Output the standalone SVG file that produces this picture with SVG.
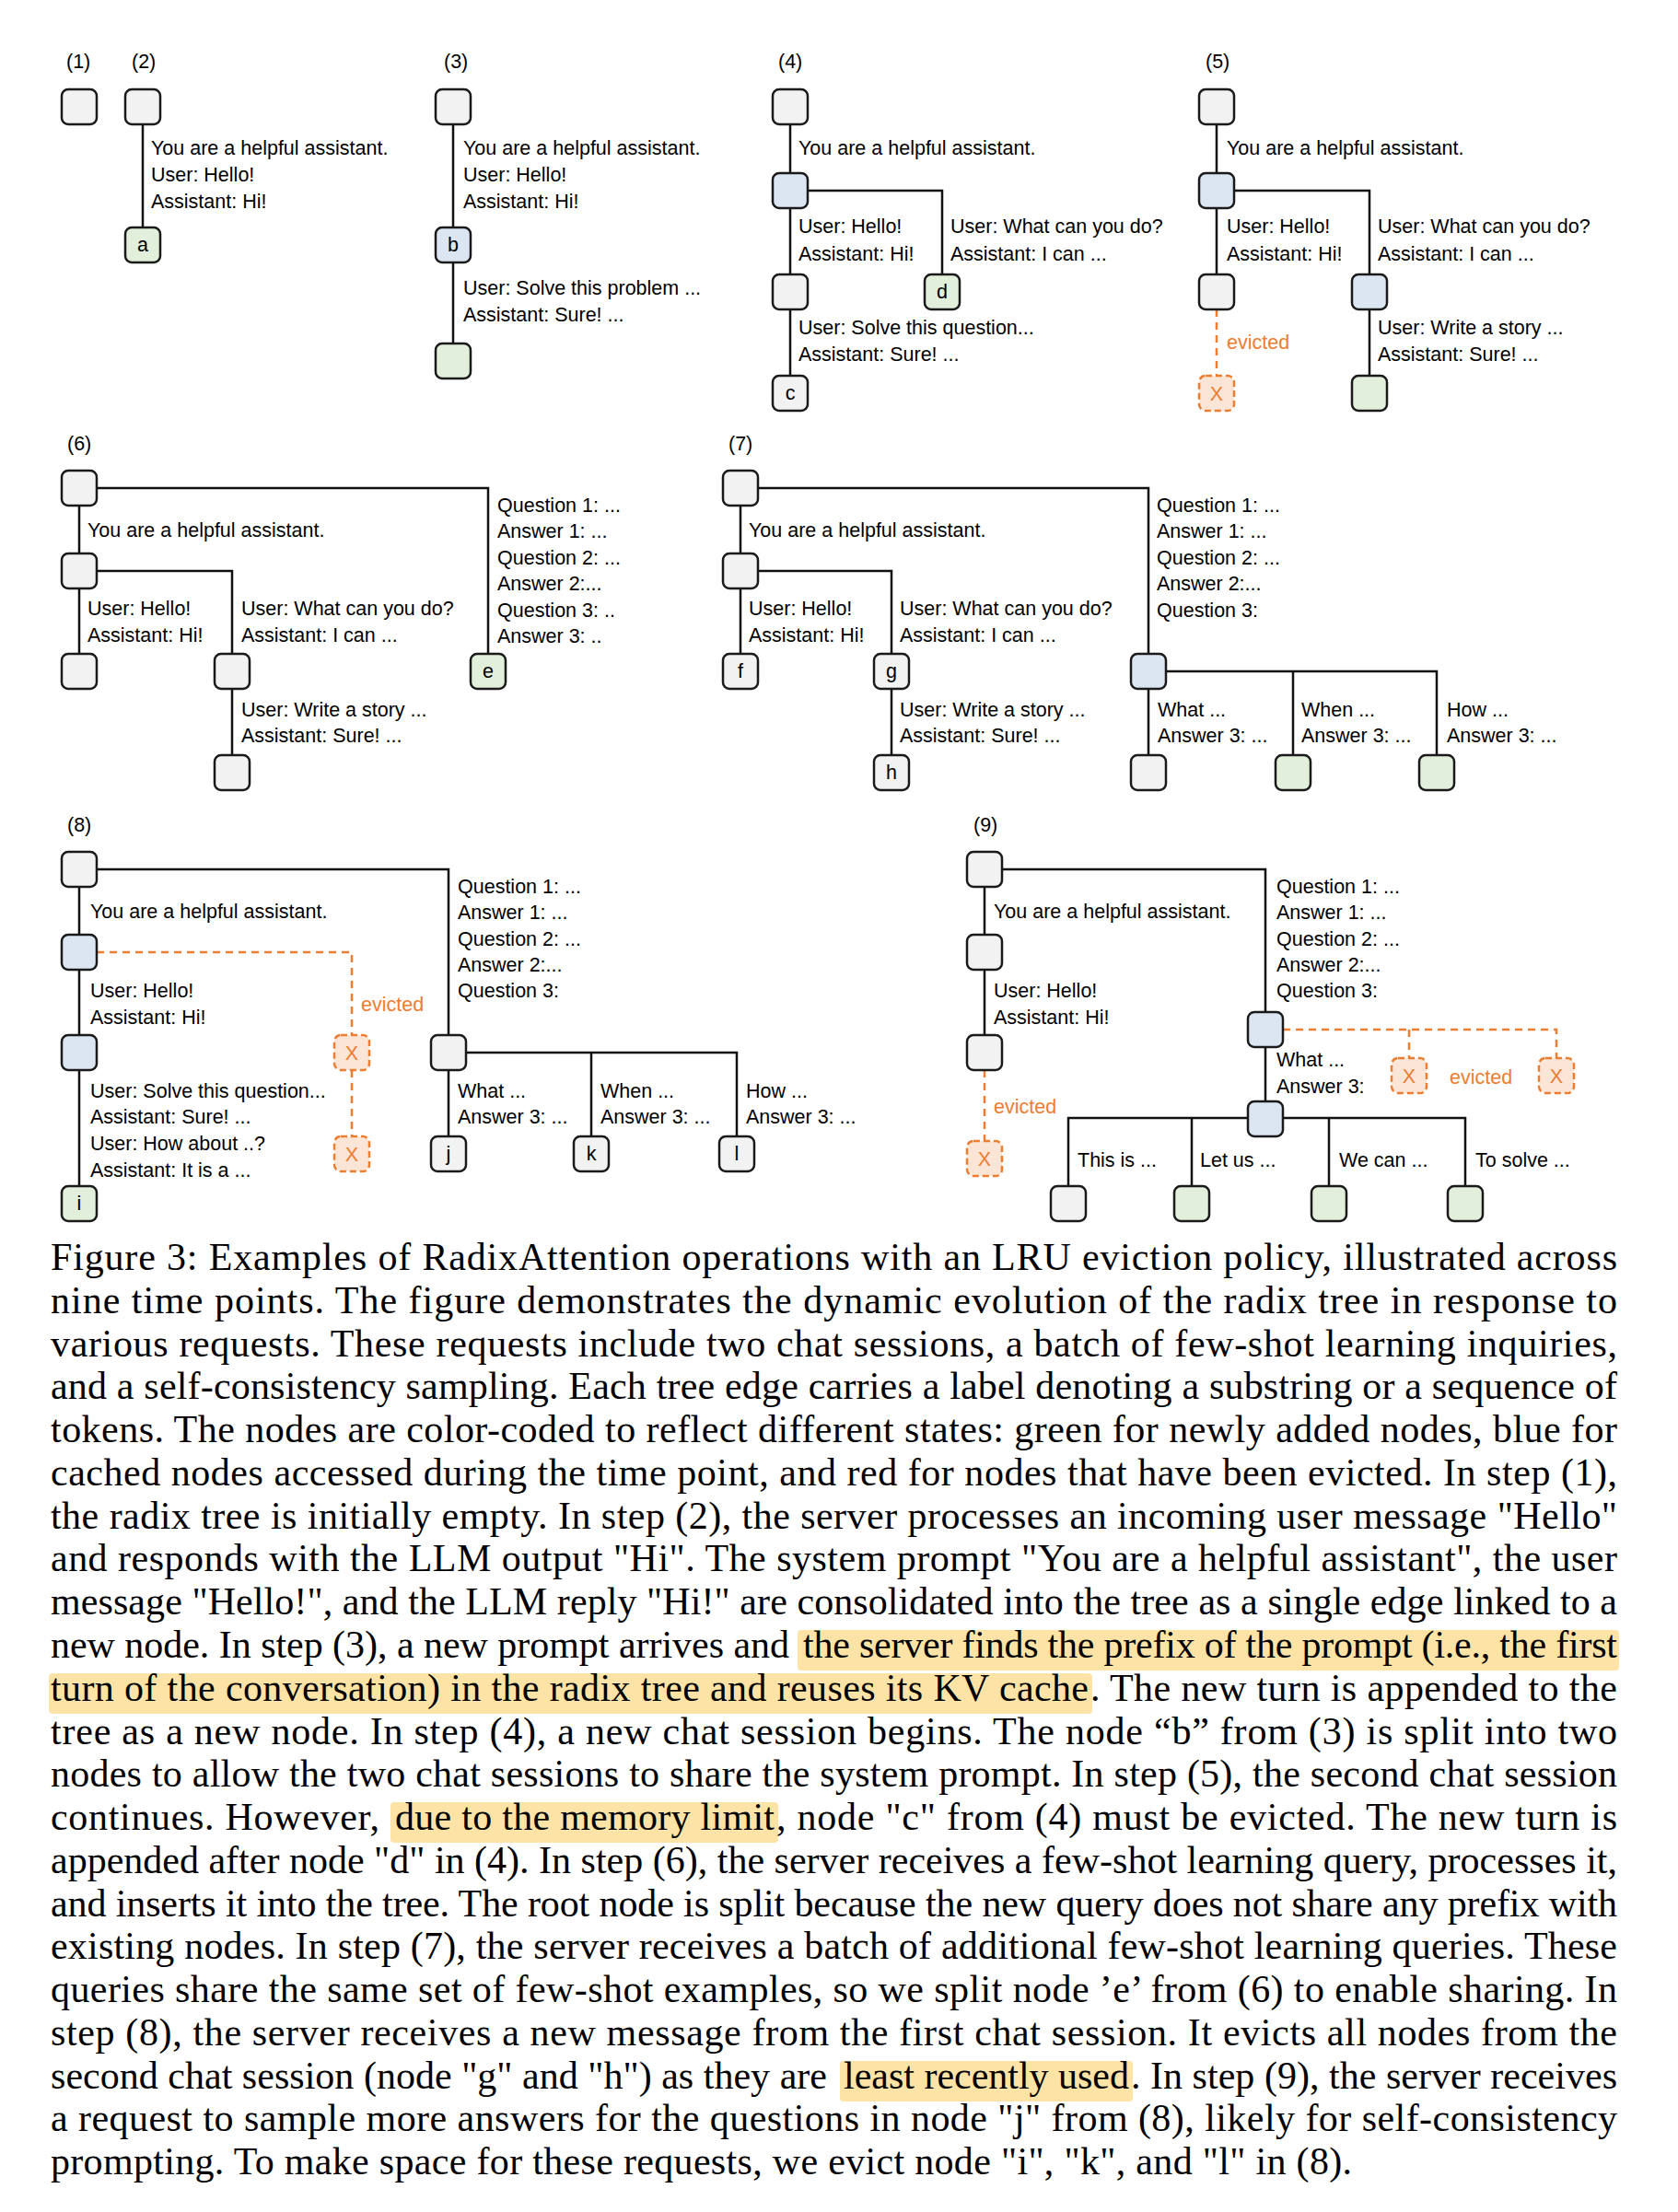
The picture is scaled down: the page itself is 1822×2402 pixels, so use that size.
<svg xmlns="http://www.w3.org/2000/svg" width="1822" height="2402" viewBox="0 0 1822 2402">
<style>
.bg{fill:#ffffff}
.n{stroke:#1a1a1a;stroke-width:2.5}
.g{fill:#f2f2f2}
.b{fill:#dce6f2}
.gr{fill:#e2efda}
.x{fill:#fbe5d6;stroke:#ed7d31;stroke-width:2.5;stroke-dasharray:7 4}
.e{stroke:#111;stroke-width:2.5;fill:none}
.d{stroke:#ed7d31;stroke-width:2.5;stroke-dasharray:8 6;fill:none}
.t{font-family:"Liberation Sans",Arial,sans-serif;font-size:21.5px;fill:#000}
.m{text-anchor:middle}
.o{fill:#ed7d31}
.c{font-family:"Liberation Serif","Times New Roman",serif;font-size:42px;fill:#000}
.hl{fill:#fde4a6}
</style>
<rect class="bg" x="0" y="0" width="1822" height="2402"/>

<g id="connectors">
  <path class="e" d="M155,116 V266"/>
  <path class="e" d="M492,116 V392"/>
  <path class="e" d="M858,116 V427 M858,207 H1023 V317"/>
  <path class="e" d="M1321,116 V317 M1321,207 H1487 V427"/>
  <path class="d" d="M1321,336 V408"/>
  <path class="e" d="M86,530 V729 M86,530 H530 V729 M86,620 H252 V839"/>
  <path class="e" d="M804,530 V729 M804,530 H1247 V839 M804,620 H968 V839 M1247,729 H1560 V839 M1404,729 V839"/>
  <path class="e" d="M86,944 V1307 M86,944 H487 V1253 M487,1143 H800 V1253 M642,1143 V1253"/>
  <path class="d" d="M105,1034 H382 V1124 M382,1162 V1234"/>
  <path class="e" d="M1069,944 V1143 M1069,944 H1374 V1215 M1160,1307 V1214 H1591 V1307 M1294,1214 V1307 M1443,1214 V1307"/>
  <path class="d" d="M1069,1162 V1239 M1393,1118 H1690 V1149 M1530,1118 V1149"/>
</g>

<g id="panel1">
  <text class="t" x="72" y="74">(1)</text>
  <g id="p1-root"><rect class="n g" x="67" y="97" width="38" height="38" rx="7"/></g>
</g>

<g id="panel2">
  <text class="t" x="143" y="74">(2)</text>
  <g id="p2-root"><rect class="n g" x="136" y="97" width="38" height="38" rx="7"/></g>
  <g id="p2-a"><rect class="n gr" x="136" y="247" width="38" height="38" rx="7"/><text class="t m" x="155" y="273">a</text></g>
  <text class="t" x="164" y="168">You are a helpful assistant.</text>
  <text class="t" x="164" y="197">User: Hello!</text>
  <text class="t" x="164" y="226">Assistant: Hi!</text>
</g>

<g id="panel3">
  <text class="t" x="482" y="74">(3)</text>
  <g id="p3-root"><rect class="n g" x="473" y="97" width="38" height="38" rx="7"/></g>
  <g id="p3-b"><rect class="n b" x="473" y="247" width="38" height="38" rx="7"/><text class="t m" x="492" y="273">b</text></g>
  <g id="p3-new"><rect class="n gr" x="473" y="373" width="38" height="38" rx="7"/></g>
  <text class="t" x="503" y="168">You are a helpful assistant.</text>
  <text class="t" x="503" y="197">User: Hello!</text>
  <text class="t" x="503" y="226">Assistant: Hi!</text>
  <text class="t" x="503" y="320">User: Solve this problem ...</text>
  <text class="t" x="503" y="349">Assistant: Sure! ...</text>
</g>

<g id="panel4">
  <text class="t" x="845" y="74">(4)</text>
  <g id="p4-root"><rect class="n g" x="839" y="97" width="38" height="38" rx="7"/></g>
  <g id="p4-split"><rect class="n b" x="839" y="188" width="38" height="38" rx="7"/></g>
  <g id="p4-mid"><rect class="n g" x="839" y="298" width="38" height="38" rx="7"/></g>
  <g id="p4-c"><rect class="n g" x="839" y="408" width="38" height="38" rx="7"/><text class="t m" x="858" y="434">c</text></g>
  <g id="p4-d"><rect class="n gr" x="1004" y="298" width="38" height="38" rx="7"/><text class="t m" x="1023" y="324">d</text></g>
  <text class="t" x="867" y="168">You are a helpful assistant.</text>
  <text class="t" x="867" y="253">User: Hello!</text>
  <text class="t" x="867" y="283">Assistant: Hi!</text>
  <text class="t" x="1032" y="253">User: What can you do?</text>
  <text class="t" x="1032" y="283">Assistant: I can ...</text>
  <text class="t" x="867" y="363">User: Solve this question...</text>
  <text class="t" x="867" y="392">Assistant: Sure! ...</text>
</g>

<g id="panel5">
  <text class="t" x="1309" y="74">(5)</text>
  <g id="p5-root"><rect class="n g" x="1302" y="97" width="38" height="38" rx="7"/></g>
  <g id="p5-split"><rect class="n b" x="1302" y="188" width="38" height="38" rx="7"/></g>
  <g id="p5-mid"><rect class="n g" x="1302" y="298" width="38" height="38" rx="7"/></g>
  <g id="p5-evicted"><rect class="x" x="1302" y="408" width="38" height="38" rx="7"/><text class="t m o" x="1321" y="435">X</text></g>
  <g id="p5-d"><rect class="n b" x="1468" y="298" width="38" height="38" rx="7"/></g>
  <g id="p5-new"><rect class="n gr" x="1468" y="408" width="38" height="38" rx="7"/></g>
  <text class="t o" x="1332" y="379">evicted</text>
  <text class="t" x="1332" y="168">You are a helpful assistant.</text>
  <text class="t" x="1332" y="253">User: Hello!</text>
  <text class="t" x="1332" y="283">Assistant: Hi!</text>
  <text class="t" x="1496" y="253">User: What can you do?</text>
  <text class="t" x="1496" y="283">Assistant: I can ...</text>
  <text class="t" x="1496" y="363">User: Write a story ...</text>
  <text class="t" x="1496" y="392">Assistant: Sure! ...</text>
</g>

<g id="panel6">
  <text class="t" x="73" y="489">(6)</text>
  <g id="p6-root"><rect class="n g" x="67" y="511" width="38" height="38" rx="7"/></g>
  <g id="p6-sys"><rect class="n g" x="67" y="601" width="38" height="38" rx="7"/></g>
  <g id="p6-c1"><rect class="n g" x="67" y="710" width="38" height="38" rx="7"/></g>
  <g id="p6-c2"><rect class="n g" x="233" y="710" width="38" height="38" rx="7"/></g>
  <g id="p6-c3"><rect class="n g" x="233" y="820" width="38" height="38" rx="7"/></g>
  <g id="p6-e"><rect class="n gr" x="511" y="710" width="38" height="38" rx="7"/><text class="t m" x="530" y="736">e</text></g>
  <text class="t" x="95" y="583">You are a helpful assistant.</text>
  <text class="t" x="95" y="668">User: Hello!</text>
  <text class="t" x="95" y="697">Assistant: Hi!</text>
  <text class="t" x="262" y="668">User: What can you do?</text>
  <text class="t" x="262" y="697">Assistant: I can ...</text>
  <text class="t" x="262" y="778">User: Write a story ...</text>
  <text class="t" x="262" y="806">Assistant: Sure! ...</text>
  <text class="t" x="540" y="556">Question 1: ...</text>
  <text class="t" x="540" y="584">Answer 1: ...</text>
  <text class="t" x="540" y="613">Question 2: ...</text>
  <text class="t" x="540" y="641">Answer 2:...</text>
  <text class="t" x="540" y="670">Question 3: ..</text>
  <text class="t" x="540" y="698">Answer 3: ..</text>
</g>

<g id="panel7">
  <text class="t" x="791" y="489">(7)</text>
  <g id="p7-root"><rect class="n g" x="785" y="511" width="38" height="38" rx="7"/></g>
  <g id="p7-sys"><rect class="n g" x="785" y="601" width="38" height="38" rx="7"/></g>
  <g id="p7-f"><rect class="n g" x="785" y="710" width="38" height="38" rx="7"/><text class="t m" x="804" y="736">f</text></g>
  <g id="p7-g"><rect class="n g" x="949" y="710" width="38" height="38" rx="7"/><text class="t m" x="968" y="736">g</text></g>
  <g id="p7-h"><rect class="n g" x="949" y="820" width="38" height="38" rx="7"/><text class="t m" x="968" y="846">h</text></g>
  <g id="p7-q"><rect class="n b" x="1228" y="710" width="38" height="38" rx="7"/></g>
  <g id="p7-a1"><rect class="n g" x="1228" y="820" width="38" height="38" rx="7"/></g>
  <g id="p7-a2"><rect class="n gr" x="1385" y="820" width="38" height="38" rx="7"/></g>
  <g id="p7-a3"><rect class="n gr" x="1541" y="820" width="38" height="38" rx="7"/></g>
  <text class="t" x="813" y="583">You are a helpful assistant.</text>
  <text class="t" x="813" y="668">User: Hello!</text>
  <text class="t" x="813" y="697">Assistant: Hi!</text>
  <text class="t" x="977" y="668">User: What can you do?</text>
  <text class="t" x="977" y="697">Assistant: I can ...</text>
  <text class="t" x="977" y="778">User: Write a story ...</text>
  <text class="t" x="977" y="806">Assistant: Sure! ...</text>
  <text class="t" x="1256" y="556">Question 1: ...</text>
  <text class="t" x="1256" y="584">Answer 1: ...</text>
  <text class="t" x="1256" y="613">Question 2: ...</text>
  <text class="t" x="1256" y="641">Answer 2:...</text>
  <text class="t" x="1256" y="670">Question 3:</text>
  <text class="t" x="1257" y="778">What ...</text>
  <text class="t" x="1257" y="806">Answer 3: ...</text>
  <text class="t" x="1413" y="778">When ...</text>
  <text class="t" x="1413" y="806">Answer 3: ...</text>
  <text class="t" x="1571" y="778">How ...</text>
  <text class="t" x="1571" y="806">Answer 3: ...</text>
</g>

<g id="panel8">
  <text class="t" x="73" y="903">(8)</text>
  <g id="p8-root"><rect class="n g" x="67" y="925" width="38" height="38" rx="7"/></g>
  <g id="p8-sys"><rect class="n b" x="67" y="1015" width="38" height="38" rx="7"/></g>
  <g id="p8-hello"><rect class="n b" x="67" y="1124" width="38" height="38" rx="7"/></g>
  <g id="p8-i"><rect class="n gr" x="67" y="1288" width="38" height="38" rx="7"/><text class="t m" x="86" y="1314">i</text></g>
  <g id="p8-x1"><rect class="x" x="363" y="1124" width="38" height="38" rx="7"/><text class="t m o" x="382" y="1151">X</text></g>
  <g id="p8-x2"><rect class="x" x="363" y="1234" width="38" height="38" rx="7"/><text class="t m o" x="382" y="1261">X</text></g>
  <g id="p8-q"><rect class="n g" x="468" y="1124" width="38" height="38" rx="7"/></g>
  <g id="p8-j"><rect class="n g" x="468" y="1234" width="38" height="38" rx="7"/><text class="t m" x="487" y="1260">j</text></g>
  <g id="p8-k"><rect class="n g" x="623" y="1234" width="38" height="38" rx="7"/><text class="t m" x="642" y="1260">k</text></g>
  <g id="p8-l"><rect class="n g" x="781" y="1234" width="38" height="38" rx="7"/><text class="t m" x="800" y="1260">l</text></g>
  <text class="t o" x="392" y="1098">evicted</text>
  <text class="t" x="98" y="997">You are a helpful assistant.</text>
  <text class="t" x="98" y="1083">User: Hello!</text>
  <text class="t" x="98" y="1112">Assistant: Hi!</text>
  <text class="t" x="98" y="1192">User: Solve this question...</text>
  <text class="t" x="98" y="1220">Assistant: Sure! ...</text>
  <text class="t" x="98" y="1249">User: How about ..?</text>
  <text class="t" x="98" y="1278">Assistant: It is a ...</text>
  <text class="t" x="497" y="970">Question 1: ...</text>
  <text class="t" x="497" y="998">Answer 1: ...</text>
  <text class="t" x="497" y="1027">Question 2: ...</text>
  <text class="t" x="497" y="1055">Answer 2:...</text>
  <text class="t" x="497" y="1083">Question 3:</text>
  <text class="t" x="497" y="1192">What ...</text>
  <text class="t" x="497" y="1220">Answer 3: ...</text>
  <text class="t" x="652" y="1192">When ...</text>
  <text class="t" x="652" y="1220">Answer 3: ...</text>
  <text class="t" x="810" y="1192">How ...</text>
  <text class="t" x="810" y="1220">Answer 3: ...</text>
</g>

<g id="panel9">
  <text class="t" x="1057" y="903">(9)</text>
  <g id="p9-root"><rect class="n g" x="1050" y="925" width="38" height="38" rx="7"/></g>
  <g id="p9-sys"><rect class="n g" x="1050" y="1015" width="38" height="38" rx="7"/></g>
  <g id="p9-hello"><rect class="n g" x="1050" y="1124" width="38" height="38" rx="7"/></g>
  <g id="p9-x1"><rect class="x" x="1050" y="1239" width="38" height="38" rx="7"/><text class="t m o" x="1069" y="1266">X</text></g>
  <g id="p9-q"><rect class="n b" x="1355" y="1099" width="38" height="38" rx="7"/></g>
  <g id="p9-what"><rect class="n b" x="1355" y="1196" width="38" height="38" rx="7"/></g>
  <g id="p9-x2"><rect class="x" x="1511" y="1149" width="38" height="38" rx="7"/><text class="t m o" x="1530" y="1176">X</text></g>
  <g id="p9-x3"><rect class="x" x="1671" y="1149" width="38" height="38" rx="7"/><text class="t m o" x="1690" y="1176">X</text></g>
  <g id="p9-s1"><rect class="n g" x="1141" y="1288" width="38" height="38" rx="7"/></g>
  <g id="p9-s2"><rect class="n gr" x="1275" y="1288" width="38" height="38" rx="7"/></g>
  <g id="p9-s3"><rect class="n gr" x="1424" y="1288" width="38" height="38" rx="7"/></g>
  <g id="p9-s4"><rect class="n gr" x="1572" y="1288" width="38" height="38" rx="7"/></g>
  <text class="t o" x="1079" y="1209">evicted</text>
  <text class="t o" x="1574" y="1177">evicted</text>
  <text class="t" x="1079" y="997">You are a helpful assistant.</text>
  <text class="t" x="1079" y="1083">User: Hello!</text>
  <text class="t" x="1079" y="1112">Assistant: Hi!</text>
  <text class="t" x="1386" y="970">Question 1: ...</text>
  <text class="t" x="1386" y="998">Answer 1: ...</text>
  <text class="t" x="1386" y="1027">Question 2: ...</text>
  <text class="t" x="1386" y="1055">Answer 2:...</text>
  <text class="t" x="1386" y="1083">Question 3:</text>
  <text class="t" x="1386" y="1158">What ...</text>
  <text class="t" x="1386" y="1187">Answer 3:</text>
  <text class="t" x="1170" y="1267">This is ...</text>
  <text class="t" x="1303" y="1267">Let us ...</text>
  <text class="t" x="1454" y="1267">We can ...</text>
  <text class="t" x="1602" y="1267">To solve ...</text>
</g>

<g id="caption">
  <rect class="hl" x="866" y="1770" width="892" height="44" rx="4"/>
  <rect class="hl" x="53" y="1817" width="1133" height="44" rx="4"/>
  <rect class="hl" x="424" y="1957" width="421" height="44" rx="4"/>
  <rect class="hl" x="912" y="2238" width="318" height="44" rx="4"/>
  <text class="c" x="55" y="1379" textLength="1701" lengthAdjust="spacing">Figure 3: Examples of RadixAttention operations with an LRU eviction policy, illustrated across</text>
  <text class="c" x="55" y="1425.8" textLength="1701" lengthAdjust="spacing">nine time points. The figure demonstrates the dynamic evolution of the radix tree in response to</text>
  <text class="c" x="55" y="1472.5" textLength="1701" lengthAdjust="spacing">various requests. These requests include two chat sessions, a batch of few-shot learning inquiries,</text>
  <text class="c" x="55" y="1519.3" textLength="1701" lengthAdjust="spacing">and a self-consistency sampling. Each tree edge carries a label denoting a substring or a sequence of</text>
  <text class="c" x="55" y="1566.1" textLength="1701" lengthAdjust="spacing">tokens. The nodes are color-coded to reflect different states: green for newly added nodes, blue for</text>
  <text class="c" x="55" y="1612.9" textLength="1701" lengthAdjust="spacing">cached nodes accessed during the time point, and red for nodes that have been evicted. In step (1),</text>
  <text class="c" x="55" y="1659.6" textLength="1701" lengthAdjust="spacing">the radix tree is initially empty. In step (2), the server processes an incoming user message "Hello"</text>
  <text class="c" x="55" y="1706.4" textLength="1701" lengthAdjust="spacing">and responds with the LLM output "Hi". The system prompt "You are a helpful assistant", the user</text>
  <text class="c" x="55" y="1753.2" textLength="1701" lengthAdjust="spacing">message "Hello!", and the LLM reply "Hi!" are consolidated into the tree as a single edge linked to a</text>
  <text class="c" x="55" y="1799.9" textLength="802" lengthAdjust="spacing">new node. In step (3), a new prompt arrives and</text>
  <text class="c" x="872" y="1799.9" textLength="884" lengthAdjust="spacing">the server finds the prefix of the prompt (i.e., the first</text>
  <text class="c" x="55" y="1846.7" textLength="1127" lengthAdjust="spacing">turn of the conversation) in the radix tree and reuses its KV cache</text>
  <text class="c" x="1184" y="1846.7" textLength="572" lengthAdjust="spacing">. The new turn is appended to the</text>
  <text class="c" x="55" y="1893.5" textLength="1701" lengthAdjust="spacing">tree as a new node. In step (4), a new chat session begins. The node “b” from (3) is split into two</text>
  <text class="c" x="55" y="1940.2" textLength="1701" lengthAdjust="spacing">nodes to allow the two chat sessions to share the system prompt. In step (5), the second chat session</text>
  <text class="c" x="55" y="1987" textLength="357" lengthAdjust="spacing">continues. However,</text>
  <text class="c" x="429" y="1987" textLength="412" lengthAdjust="spacing">due to the memory limit</text>
  <text class="c" x="843" y="1987" textLength="913" lengthAdjust="spacing">, node "c" from (4) must be evicted. The new turn is</text>
  <text class="c" x="55" y="2033.8" textLength="1701" lengthAdjust="spacing">appended after node "d" in (4). In step (6), the server receives a few-shot learning query, processes it,</text>
  <text class="c" x="55" y="2080.6" textLength="1701" lengthAdjust="spacing">and inserts it into the tree. The root node is split because the new query does not share any prefix with</text>
  <text class="c" x="55" y="2127.3" textLength="1701" lengthAdjust="spacing">existing nodes. In step (7), the server receives a batch of additional few-shot learning queries. These</text>
  <text class="c" x="55" y="2174.1" textLength="1701" lengthAdjust="spacing">queries share the same set of few-shot examples, so we split node ’e’ from (6) to enable sharing. In</text>
  <text class="c" x="55" y="2220.9" textLength="1701" lengthAdjust="spacing">step (8), the server receives a new message from the first chat session. It evicts all nodes from the</text>
  <text class="c" x="55" y="2267.6" textLength="843" lengthAdjust="spacing">second chat session (node "g" and "h") as they are</text>
  <text class="c" x="916" y="2267.6" textLength="310" lengthAdjust="spacing">least recently used</text>
  <text class="c" x="1228" y="2267.6" textLength="528" lengthAdjust="spacing">. In step (9), the server receives</text>
  <text class="c" x="55" y="2314.4" textLength="1701" lengthAdjust="spacing">a request to sample more answers for the questions in node "j" from (8), likely for self-consistency</text>
  <text class="c" x="55" y="2361.2" textLength="1413" lengthAdjust="spacing">prompting. To make space for these requests, we evict node "i", "k", and "l" in (8).</text>
</g>
</svg>
